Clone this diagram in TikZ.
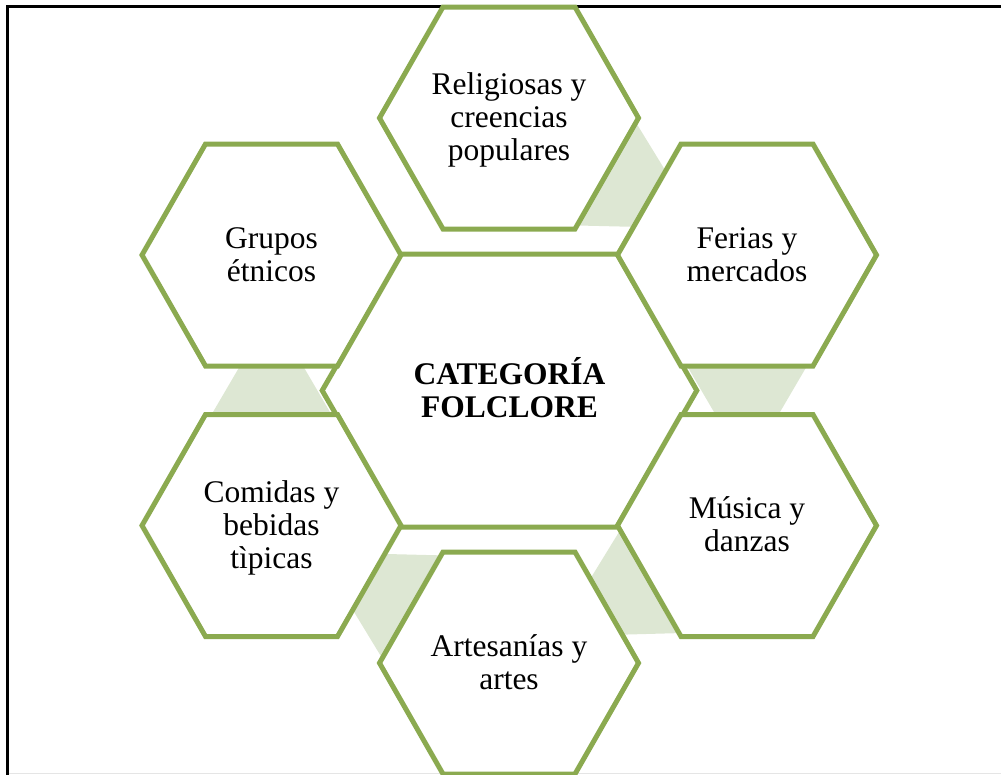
\documentclass[tikz,border=0pt]{standalone}
\usepackage{fontspec}
\setmainfont{Liberation Serif}
\usetikzlibrary{calc}

\definecolor{hexgreen}{RGB}{139,170,80}
\definecolor{linkgreen}{RGB}{221,231,211}

\pgfdeclarelayer{links}
\pgfdeclarelayer{cells}
\pgfsetlayers{links,cells,main}

% invisible strut giving every text line the same height and depth
\newcommand\ls{\rule[-6.5pt]{0pt}{32.5pt}}

% flat-topped hexagon round a node: half width, half top edge, half height
\newcommand\cellhex[4]{%
  \path[cell] ($(#1)+(-#2,0)$) -- ++({#2-#3},-#4) -- ++({2*#3},0)
    -- ++({#2-#3},#4) -- ++({#3-#2},#4) -- ++({-2*#3},0) -- cycle;}

% tapered band in the gap between two neighbouring cells, wide at the first
\newcommand\hexlink[2]{%
  \fill[link]
    ($ ($(#1)!108pt!(#2)$)!61.7pt!90:(#2) $) --
    ($ ($(#1)!108pt!(#2)$)!61.7pt!-90:(#2) $) --
    ($ ($(#2)!108pt!(#1)$)!29.8pt!90:(#1) $) --
    ($ ($(#2)!108pt!(#1)$)!29.8pt!-90:(#1) $) -- cycle;}

\begin{document}
\begin{tikzpicture}[x=1pt,y=-1pt,
  celltext/.style={align=center, inner sep=0pt,
    font=\fontsize{31.5}{33}\selectfont},
  cell/.style={draw=hexgreen, line width=5pt, fill=white, line join=miter},
  link/.style={fill=linkgreen},
  frame/.style={draw=black, line width=3pt}]
\useasboundingbox (0,0) rectangle (1001,774);

% labels
\node[celltext] (R) at (509,118) {\ls Religiosas y\\\ls creencias\\\ls populares};
\node[celltext] (G) at (271.5,255) {\ls Grupos\\\ls étnicos};
\node[celltext] (F) at (747,255) {\ls Ferias y\\\ls mercados};
\node[celltext, font=\fontsize{31.5}{33}\selectfont\bfseries] (K) at (509.5,390.5)
  {\ls CATEGORÍA\\\ls FOLCLORE};
\node[celltext] (C) at (271.5,525.5) {\ls Comidas y\\\ls bebidas\\\ls tìpicas};
\node[celltext] (M) at (747,525.5) {\ls Música y\\\ls danzas};
\node[celltext] (A) at (509,663) {\ls Artesanías y\\\ls artes};

\begin{pgfonlayer}{links}
  \draw[frame] (1010,6.7) -- (7.5,6.7) -- (7.5,790);
  \draw[black!10, line width=1pt] (9,773.3) -- (1001,773.3);
  \hexlink{R}{F}
  \hexlink{F}{M}
  \hexlink{M}{A}
  \hexlink{A}{C}
  \hexlink{C}{G}
\end{pgfonlayer}

\begin{pgfonlayer}{cells}
  \cellhex{K}{187.3}{108.5}{136.5}
  \cellhex{R}{129.5}{66}{111}
  \cellhex{G}{129.5}{66}{111}
  \cellhex{F}{129.5}{66}{111}
  \cellhex{C}{129.5}{66}{111}
  \cellhex{M}{129.5}{66}{111}
  \cellhex{A}{129.5}{66}{111}
\end{pgfonlayer}
\end{tikzpicture}
\end{document}
